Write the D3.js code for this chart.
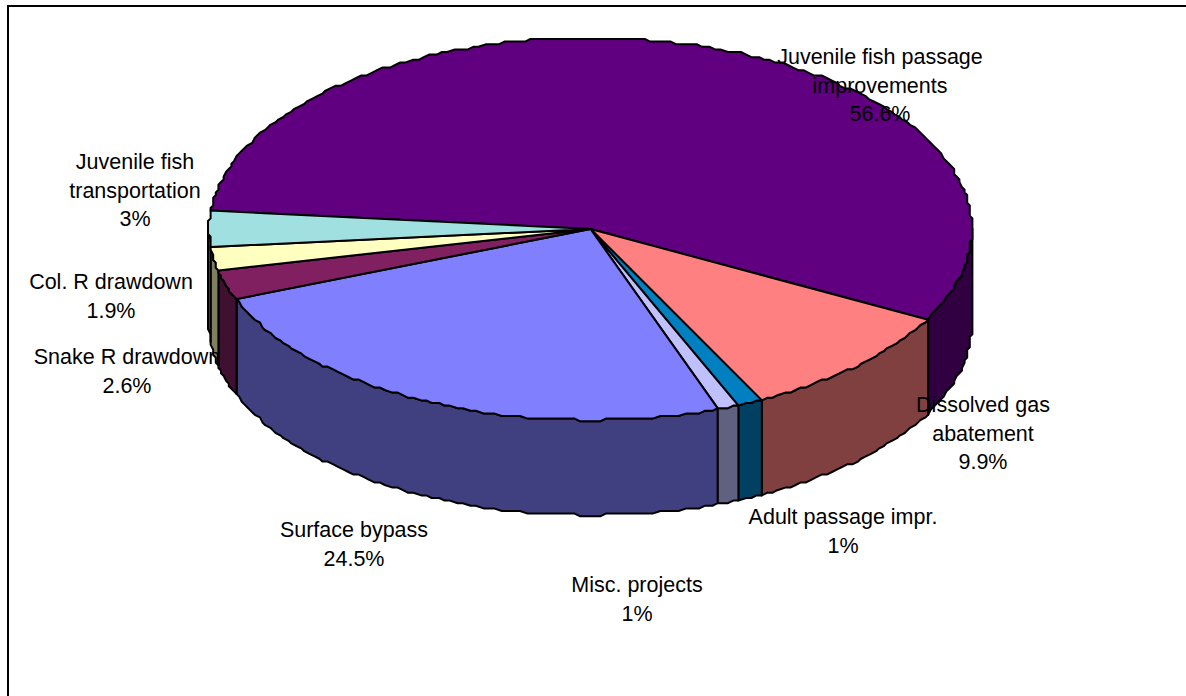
<!DOCTYPE html>
<html>
<head>
<meta charset="utf-8">
<script src="https://cdn.jsdelivr.net/npm/d3@7/dist/d3.min.js"></script>
<style>
  html, body { margin: 0; padding: 0; background: #fff; overflow: hidden; }
  svg { display: block; }
  text { font-family: "Liberation Sans", Arial, sans-serif; font-size: 21.5px; fill: #000; text-anchor: middle; }
</style>
</head>
<body>
<svg id="chart" width="1186" height="696"></svg>
<script>
// Budget shares of the fish-passage programme, clockwise from the left of the disc.
const categories = ["Juvenile fish passage improvements", "Dissolved gas abatement", "Adult passage impr.",
  "Misc. projects", "Surface bypass", "Snake R drawdown", "Col. R drawdown", "Juvenile fish transportation"];
const shares = [56.6, 9.9, 1, 1, 24.5, 2.6, 1.9, 3];
const shareLabels = ["56.6%", "9.9%", "1%", "1%", "24.5%", "2.6%", "1.9%", "3%"];
const labelLines = [["Juvenile fish passage", "improvements"], ["Dissolved gas", "abatement"], ["Adult passage impr."],
  ["Misc. projects"], ["Surface bypass"], ["Snake R drawdown"], ["Col. R drawdown"], ["Juvenile fish", "transportation"]];
const topColors = ["#600080", "#ff8080", "#0080c0", "#c0c0ff", "#8080ff", "#802060", "#ffffc0", "#a0e0e0"];
const wallColors = ["#300040", "#804040", "#004060", "#606080", "#404080", "#401030", "#808060", "#507070"];

// Layout of the tilted disc and its labels.
const cx = 590.5, cy = 229, rx = 381.5, ry = 191, depth = 95;
const labelCenters = [[880, 57], [983, 405], [843, 517], [637, 585], [354, 530], [127, 357], [111, 282], [135, 162]];
const lineGap = 28.6;
const snap = 2.6; // outline coordinates land on a coarse raster grid

const x = d3.scaleLinear().domain([-1, 1]).range([cx - rx, cx + rx]);
const y = d3.scaleLinear().domain([-1, 1]).range([cy - ry, cy + ry]);
const start = (185.2 + 90) * Math.PI / 180;
const slices = d3.pie().sort(null).startAngle(start).endAngle(start + 2 * Math.PI)(shares);

const svg = d3.select("#chart");
const grid = v => Math.round(v / snap) * snap;
const line = d3.line().curve(d3.curveLinear);

// Rim point at pie angle a (clockwise from 12 o'clock), optionally dropped by the disc depth.
function rim(a, drop = 0) {
  return [grid(x(Math.sin(a))), grid(y(-Math.cos(a))) + drop];
}
function arcPoints(a0, a1, drop = 0) {
  const n = Math.max(2, Math.ceil(Math.abs(a1 - a0) / (Math.PI / 180)));
  return d3.range(n + 1).map(i => rim(a0 + (a1 - a0) * i / n, drop));
}

// Front wall: only the part of each slice between 3 o'clock and 9 o'clock faces the viewer.
const wallRanges = [];
slices.forEach((s, i) => {
  for (const shift of [0, 2 * Math.PI]) {
    const a0 = Math.max(s.startAngle, Math.PI / 2 + shift);
    const a1 = Math.min(s.endAngle, 3 * Math.PI / 2 + shift);
    if (a1 > a0) wallRanges.push({ a0, a1, i });
  }
});

svg.append("g").selectAll("path").data(wallRanges).join("path")
  .attr("d", d => line([...arcPoints(d.a0, d.a1), ...arcPoints(d.a1, d.a0, depth)]) + "Z")
  .attr("fill", d => wallColors[d.i])
  .attr("stroke", "#000").attr("stroke-width", 2).attr("stroke-linejoin", "round");

// Top face of the disc.
svg.append("g").selectAll("path").data(slices).join("path")
  .attr("d", s => line([[cx, cy], ...arcPoints(s.startAngle, s.endAngle)]) + "Z")
  .attr("fill", (s, i) => topColors[i])
  .attr("stroke", "#000").attr("stroke-width", 2).attr("stroke-linejoin", "round");

// Category name followed by its share, centred on each anchor.
const labels = svg.append("g").selectAll("text").data(categories).join("text")
  .attr("x", (d, i) => labelCenters[i][0])
  .attr("y", (d, i) => labelCenters[i][1] + 7);
labels.each(function (d, i) {
  const lines = [...labelLines[i], shareLabels[i]];
  d3.select(this).selectAll("tspan").data(lines).join("tspan")
    .attr("x", labelCenters[i][0])
    .attr("y", (t, k) => labelCenters[i][1] + 7 + k * lineGap)
    .text(t => t);
});

// Frame: top and left edges of the chart area.
svg.append("path").attr("d", "M8,696V6H1186").attr("fill", "none").attr("stroke", "#000").attr("stroke-width", 2);
</script>
</body>
</html>
